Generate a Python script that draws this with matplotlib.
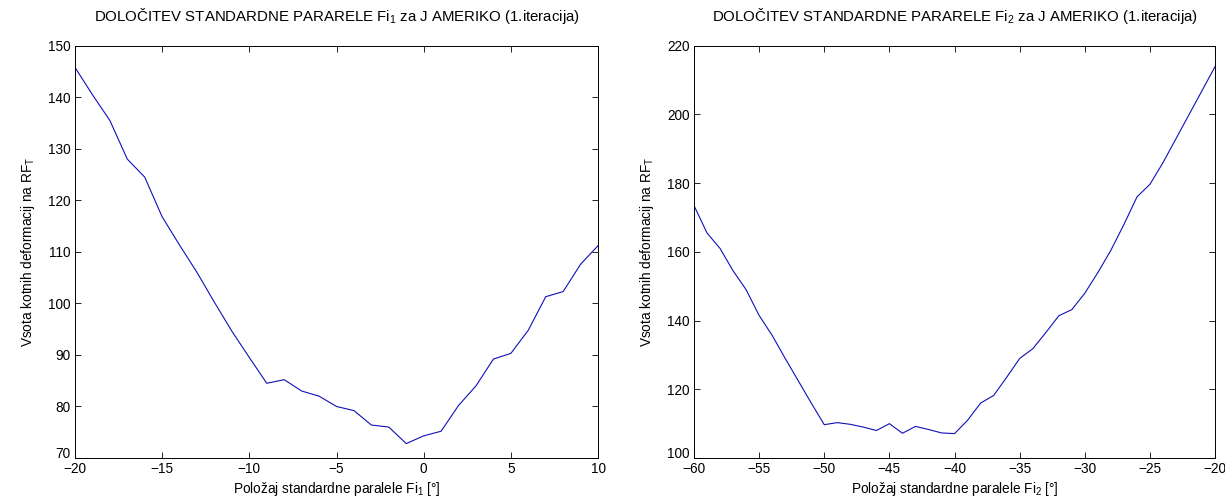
import numpy as np
import matplotlib.pyplot as plt
import matplotlib.transforms as mtransforms

plt.rcParams['font.family'] = ['Liberation Sans', 'DejaVu Sans']
plt.rcParams['mathtext.default'] = 'regular'
plt.rcParams['font.size'] = 9

# Fi1 scan (southern America, 1st iteration)
fi1 = np.arange(-20, 11)
vsota1 = [145.8, 140.5, 135.5, 128.0, 124.5, 116.8, 111.3, 106.0, 100.2, 94.6,
          89.5, 84.5, 85.2, 83.0, 82.0, 80.0, 79.2, 76.4, 76.0, 72.8,
          74.3, 75.2, 80.2, 84.0, 89.2, 90.3, 94.8, 101.3, 102.3, 107.6,
          111.2]

# Fi2 scan
fi2 = np.arange(-60, -19)
vsota2 = [173.5, 165.5, 161.0, 154.5, 149.0, 141.5, 135.7, 129.0, 122.5, 116.0,
          109.7, 110.3, 109.8, 109.0, 108.0, 110.0, 107.2, 109.2, 108.3, 107.3,
          107.1, 111.0, 116.0, 118.2, 123.5, 129.0, 131.8, 136.5, 141.4, 143.2,
          148.0, 154.0, 160.5, 168.0, 176.0, 179.7, 186.0, 193.0, 200.0, 207.0,
          214.0]

fig = plt.figure(figsize=(12.25, 5.01), dpi=100)
ax1 = fig.add_axes([0.0612, 0.0858, 0.4270, 0.8230])
ax2 = fig.add_axes([0.5665, 0.0858, 0.4255, 0.8230])

col = '#1010b8'
ax1.plot(fi1, vsota1, color=col, lw=0.8)
ax1.set_xlim(-20, 10)
ax1.set_ylim(70, 150)
ax1.set_xticks(np.arange(-20, 11, 5))
ax1.set_yticks(np.arange(70, 151, 10))
ax1.set_title('DOLOČITEV STANDARDNE PARARELE Fi$_1$ za J AMERIKO (1.iteracija)',
              fontsize=10.8, pad=18)
ax1.set_xlabel('Položaj standardne paralele Fi$_1$ [°]', fontsize=9.8, labelpad=3)
ax1.set_ylabel('Vsota kotnih deformacij na RF$_T$', fontsize=9.8, labelpad=8)

ax2.plot(fi2, vsota2, color=col, lw=0.8)
ax2.set_xlim(-60, -20)
ax2.set_ylim(100, 220)
ax2.set_xticks(np.arange(-60, -19, 5))
ax2.set_yticks(np.arange(100, 221, 20))
ax2.set_title('DOLOČITEV STANDARDNE PARARELE Fi$_2$ za J AMERIKO (1.iteracija)',
              fontsize=10.8, pad=18)
ax2.set_xlabel('Položaj standardne paralele Fi$_2$ [°]', fontsize=9.8, labelpad=3)
ax2.set_ylabel('Vsota kotnih deformacij na RF$_T$', fontsize=9.8, labelpad=8)

for ax in (ax1, ax2):
    ax.tick_params(direction='in', top=True, right=True, length=4, width=0.6,
                   labelsize=9.8, pad=3)
    for s in ax.spines.values():
        s.set_linewidth(0.7)
    # lift the lowest y label so it clears the first x label
    lbl = ax.get_yticklabels()[0]
    lbl.set_transform(lbl.get_transform() +
                      mtransforms.ScaledTranslation(0, 4 / 72, fig.dpi_scale_trans))

fig.savefig('out.png', dpi=100)
